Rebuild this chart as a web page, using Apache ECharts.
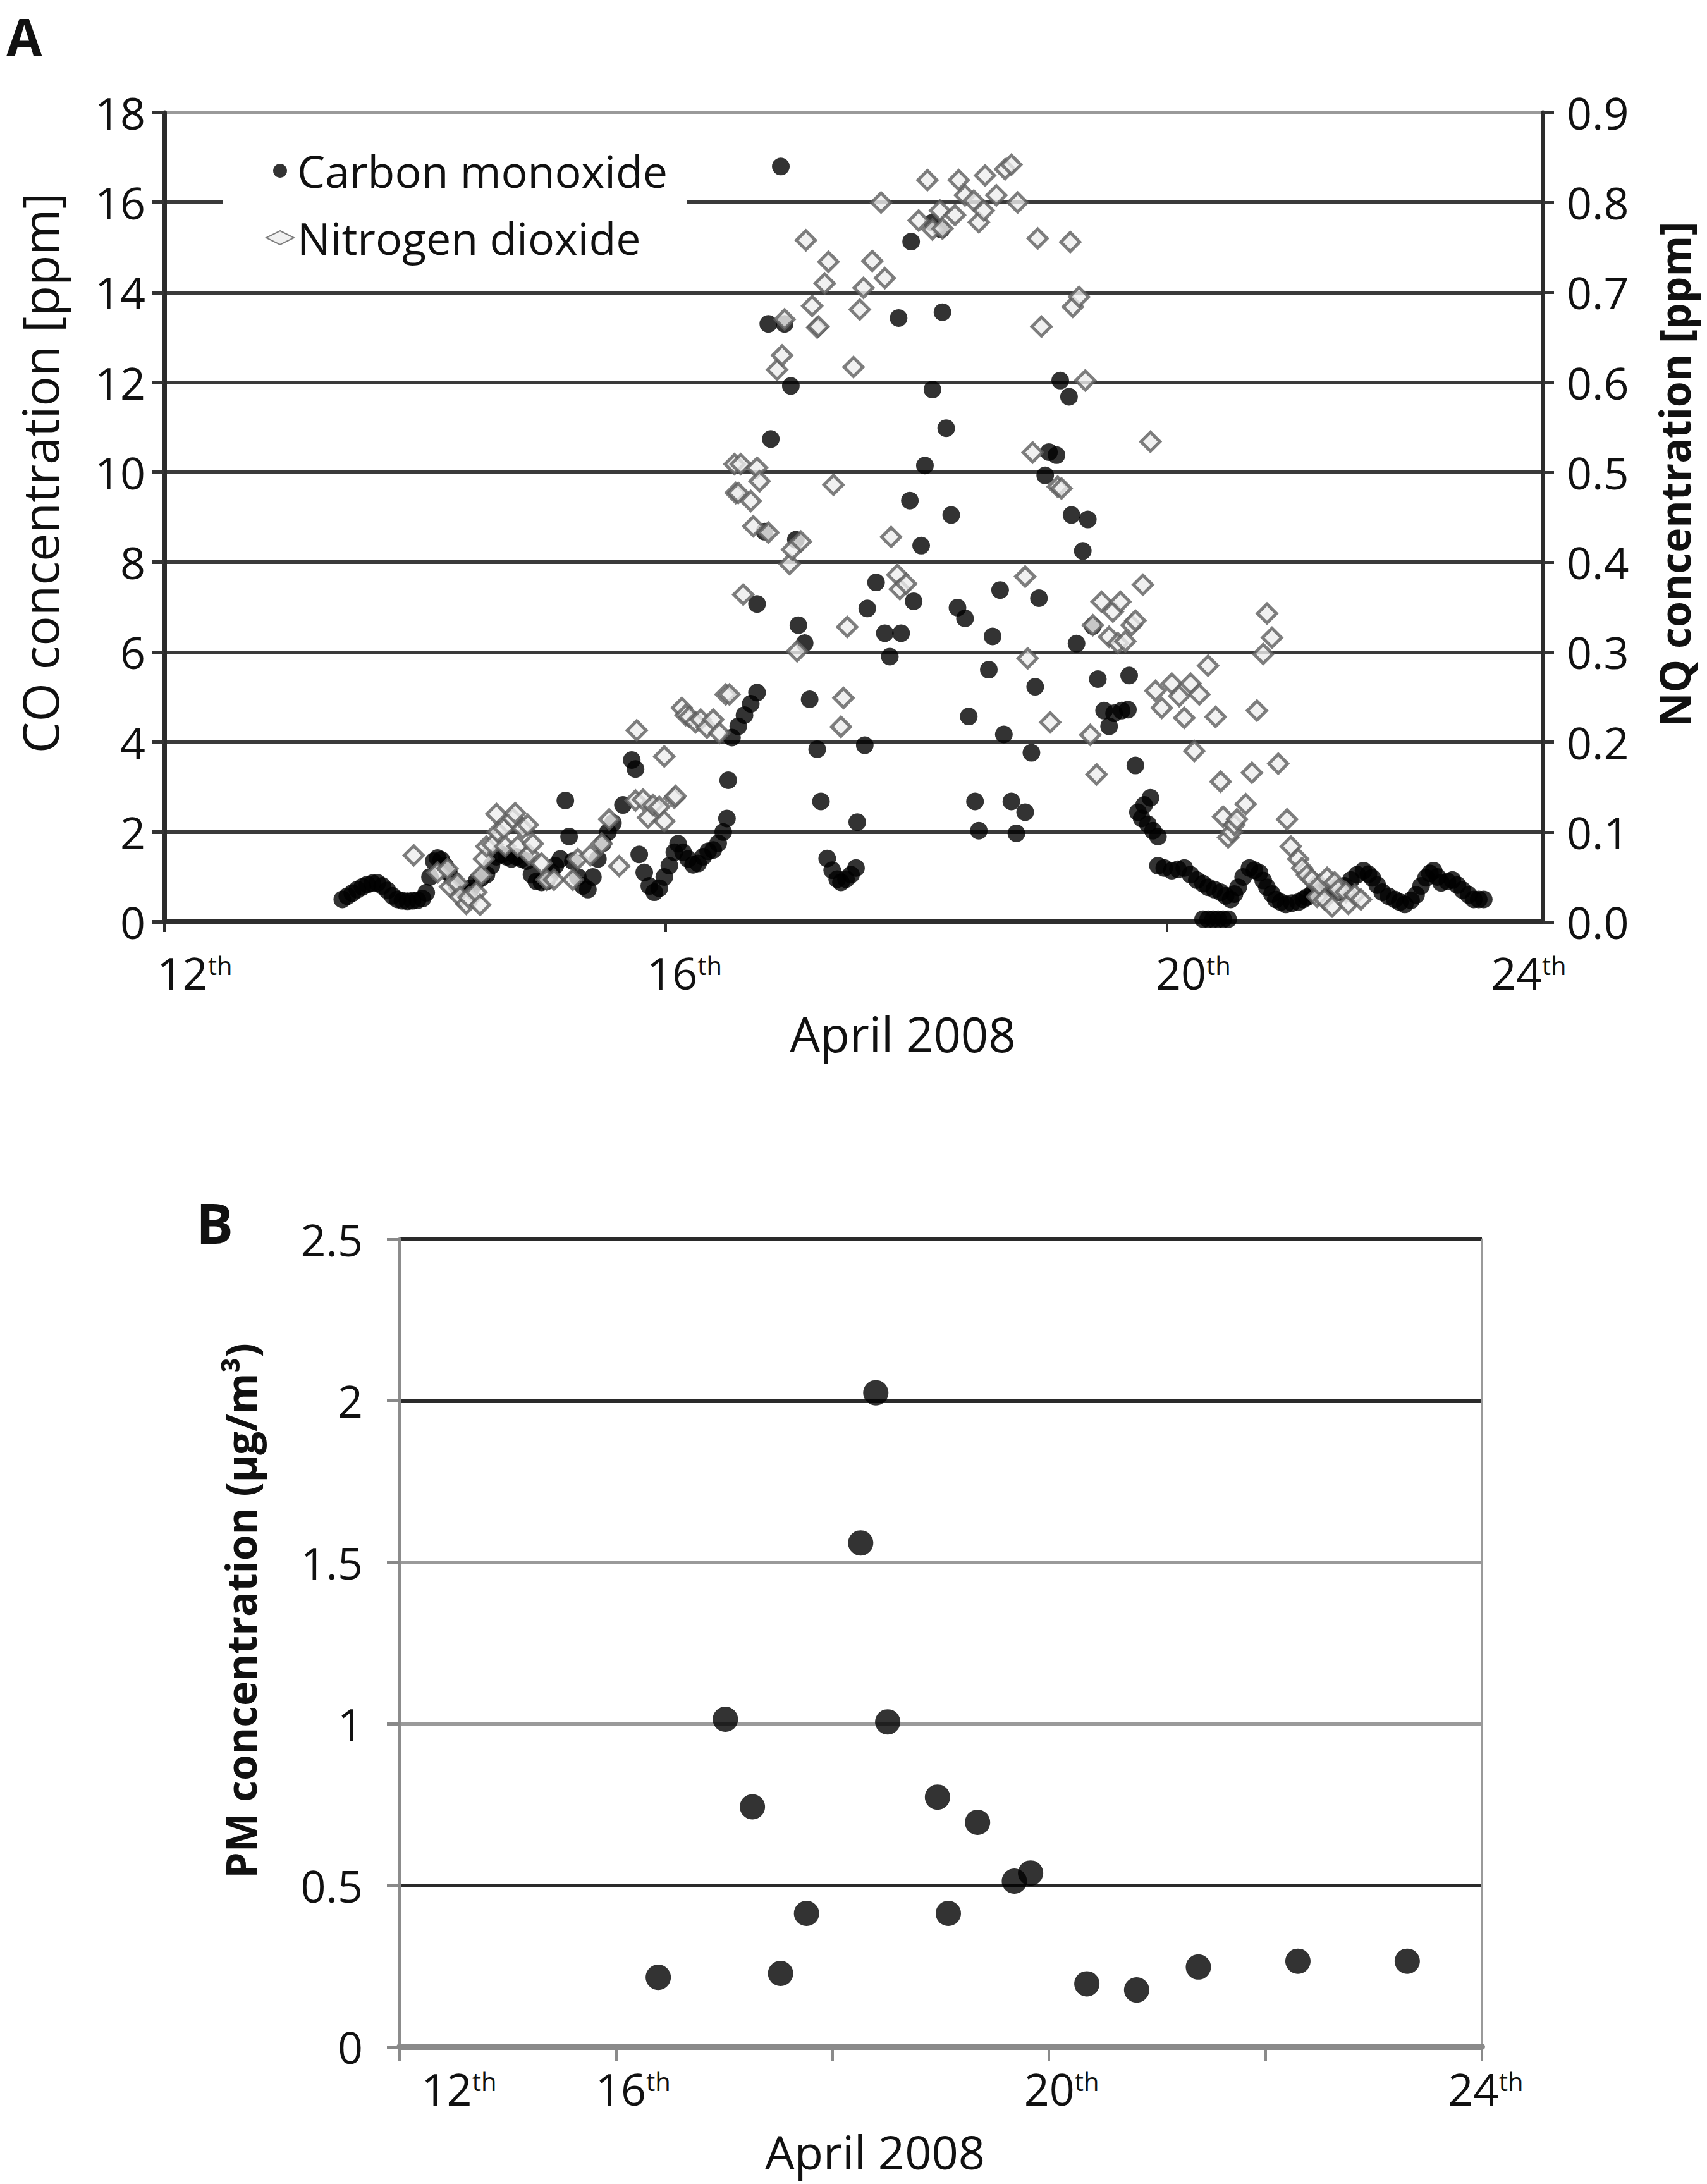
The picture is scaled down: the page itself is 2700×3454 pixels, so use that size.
<!DOCTYPE html>
<html><head><meta charset="utf-8">
<script src="https://cdn.jsdelivr.net/npm/echarts@6/dist/echarts.min.js"></script>
<style>html,body{margin:0;padding:0;background:#fff}#c{width:2700px;height:3454px}</style>
</head><body><div id="c"></div><script>
// ---- Data (day of April 2008, value) ----
const coPoints = [[13.42,0.5],[13.46,0.57],[13.50,0.64],[13.54,0.72],[13.58,0.78],[13.62,0.83],[13.66,0.86],[13.70,0.87],[13.74,0.8],[13.78,0.7],[13.82,0.58],[13.86,0.5],[13.90,0.47],[13.94,0.46],[13.98,0.47],[14.02,0.48],[14.06,0.52],[14.09,0.65],[14.12,1.0],[14.15,1.35],[14.18,1.42],[14.21,1.38],[14.24,1.25],[14.27,1.1],[14.30,0.95],[14.33,0.82],[14.37,0.74],[14.41,0.7],[14.45,0.75],[14.49,0.9],[14.53,0.98],[14.57,1.05],[14.61,1.25],[14.65,1.45],[14.69,1.5],[14.73,1.45],[14.77,1.4],[14.81,1.45],[14.85,1.4],[14.89,1.35],[14.93,1.05],[14.97,0.9],[15.01,0.88],[15.05,0.9],[15.09,1.1],[15.12,1.25],[15.16,1.4],[15.20,2.7],[15.23,1.9],[15.26,1.35],[15.30,1.0],[15.34,0.8],[15.38,0.72],[15.42,1.0],[15.46,1.4],[15.50,1.75],[15.54,2.0],[15.58,2.2],[15.66,2.6],[15.73,3.6],[15.76,3.4],[15.79,1.5],[15.83,1.1],[15.87,0.8],[15.91,0.66],[15.95,0.75],[15.99,1.0],[16.03,1.25],[16.07,1.55],[16.10,1.74],[16.14,1.55],[16.18,1.4],[16.22,1.27],[16.26,1.3],[16.30,1.45],[16.34,1.57],[16.38,1.6],[16.42,1.75],[16.46,2.0],[16.49,2.3],[16.50,3.15],[16.53,4.1],[16.58,4.35],[16.63,4.6],[16.68,4.85],[16.73,5.1],[16.73,7.07],[16.79,8.68],[16.82,13.3],[16.84,10.74],[16.95,13.3],[16.92,16.8],[17.0,11.92],[17.04,8.5],[17.06,6.6],[17.11,6.2],[17.15,4.95],[17.21,3.84],[17.24,2.68],[17.29,1.41],[17.33,1.15],[17.37,0.95],[17.40,0.88],[17.44,0.95],[17.48,1.05],[17.52,1.2],[17.53,2.22],[17.59,3.93],[17.61,6.97],[17.68,7.55],[17.75,6.42],[17.79,5.9],[17.86,13.43],[17.88,6.42],[17.95,9.37],[17.96,15.13],[17.98,7.13],[18.04,8.37],[18.07,10.15],[18.13,11.84],[18.13,15.55],[18.20,15.4],[18.21,13.56],[18.24,10.98],[18.28,9.05],[18.33,6.99],[18.39,6.75],[18.42,4.57],[18.47,2.68],[18.50,2.03],[18.58,5.61],[18.61,6.35],[18.67,7.38],[18.70,4.17],[18.76,2.68],[18.80,1.97],[18.87,2.44],[18.92,3.76],[18.95,5.23],[18.98,7.2],[19.03,9.93],[19.06,10.45],[19.12,10.38],[19.15,12.04],[19.22,11.68],[19.24,9.05],[19.33,8.25],[19.37,8.95],[19.28,6.19],[19.41,6.58],[19.45,5.4],[19.50,4.7],[19.54,4.35],[19.58,4.64],[19.64,4.7],[19.69,4.72],[19.70,5.48],[19.75,3.48],[19.87,2.76],[19.82,2.6],[19.77,2.44],[19.80,2.3],[19.85,2.17],[19.89,2.03],[19.93,1.9],[19.93,1.25],[19.98,1.2],[20.04,1.14],[20.09,1.17],[20.14,1.2],[20.19,1.05],[20.24,0.93],[20.29,0.85],[20.33,0.77],[20.38,0.72],[20.43,0.66],[20.47,0.58],[20.51,0.5],[20.54,0.62],[20.57,0.77],[20.61,1.0],[20.66,1.2],[20.70,1.15],[20.74,1.09],[20.77,0.92],[20.80,0.77],[20.84,0.62],[20.87,0.5],[20.91,0.44],[20.95,0.39],[21.00,0.42],[21.05,0.44],[21.09,0.5],[21.12,0.55],[21.16,0.63],[21.20,0.71],[21.25,0.75],[21.30,0.77],[21.34,0.72],[21.37,0.66],[21.42,0.8],[21.47,0.93],[21.52,1.05],[21.57,1.14],[21.61,1.06],[21.64,0.98],[21.68,0.82],[21.72,0.66],[21.77,0.57],[21.82,0.5],[21.86,0.44],[21.90,0.39],[21.95,0.48],[21.99,0.6],[22.03,0.8],[22.07,0.98],[22.10,1.08],[22.13,1.14],[22.16,1.0],[22.19,0.87],[22.24,0.9],[22.28,0.93],[22.32,0.82],[22.36,0.71],[22.41,0.6],[22.45,0.5],[22.49,0.5],[22.53,0.5],[20.29,0.06],[20.33,0.06],[20.37,0.06],[20.41,0.06],[20.45,0.06],[20.49,0.06]];

const no2Points = [[13.99,0.074],[14.18,0.055],[14.26,0.059],[14.28,0.039],[14.34,0.043],[14.36,0.028],[14.41,0.02],[14.43,0.027],[14.49,0.033],[14.52,0.019],[14.53,0.052],[14.55,0.07],[14.57,0.084],[14.62,0.086],[14.65,0.12],[14.66,0.1],[14.71,0.104],[14.72,0.084],[14.78,0.115],[14.80,0.121],[14.82,0.084],[14.86,0.104],[14.90,0.108],[14.91,0.075],[14.94,0.087],[15.01,0.065],[15.05,0.047],[15.11,0.047],[15.26,0.047],[15.30,0.07],[15.40,0.074],[15.49,0.087],[15.55,0.114],[15.63,0.062],[15.77,0.213],[15.76,0.135],[15.82,0.136],[15.86,0.116],[15.90,0.13],[15.95,0.128],[15.99,0.112],[15.99,0.184],[16.07,0.138],[16.08,0.14],[16.13,0.238],[16.16,0.23],[16.19,0.228],[16.24,0.222],[16.28,0.225],[16.33,0.216],[16.38,0.225],[16.43,0.21],[16.48,0.253],[16.51,0.253],[16.55,0.509],[16.56,0.477],[16.58,0.477],[16.60,0.509],[16.62,0.364],[16.68,0.468],[16.70,0.44],[16.73,0.505],[16.75,0.49],[16.82,0.433],[16.89,0.614],[16.93,0.63],[16.95,0.67],[16.99,0.398],[17.01,0.414],[17.05,0.301],[17.08,0.423],[17.12,0.758],[17.17,0.685],[17.21,0.661],[17.22,0.662],[17.27,0.71],[17.30,0.734],[17.34,0.486],[17.40,0.217],[17.42,0.249],[17.45,0.328],[17.50,0.617],[17.55,0.681],[17.58,0.705],[17.65,0.735],[17.72,0.8],[17.75,0.716],[17.80,0.428],[17.85,0.386],[17.87,0.37],[17.92,0.376],[18.02,0.78],[18.09,0.825],[18.13,0.77],[18.19,0.791],[18.21,0.771],[18.31,0.786],[18.34,0.825],[18.39,0.808],[18.46,0.802],[18.50,0.778],[18.54,0.791],[18.55,0.83],[18.64,0.808],[18.71,0.837],[18.76,0.842],[18.81,0.80],[18.87,0.384],[18.89,0.293],[18.93,0.522],[18.97,0.76],[19.00,0.662],[19.07,0.222],[19.13,0.484],[19.16,0.482],[19.23,0.756],[19.25,0.684],[19.30,0.695],[19.35,0.602],[19.39,0.208],[19.41,0.33],[19.44,0.164],[19.48,0.356],[19.54,0.317],[19.57,0.345],[19.61,0.31],[19.63,0.356],[19.67,0.312],[19.72,0.33],[19.75,0.335],[19.81,0.375],[19.87,0.534],[19.91,0.257],[19.96,0.238],[20.04,0.265],[20.10,0.251],[20.14,0.227],[20.19,0.265],[20.22,0.19],[20.26,0.253],[20.33,0.285],[20.39,0.228],[20.43,0.156],[20.45,0.117],[20.49,0.094],[20.52,0.1],[20.54,0.108],[20.56,0.114],[20.63,0.131],[20.68,0.166],[20.72,0.235],[20.77,0.298],[20.80,0.343],[20.84,0.316],[20.89,0.176],[20.96,0.114],[20.99,0.084],[21.05,0.07],[21.08,0.06],[21.12,0.052],[21.16,0.047],[21.20,0.028],[21.22,0.041],[21.26,0.025],[21.28,0.049],[21.32,0.017],[21.34,0.044],[21.37,0.036],[21.43,0.033],[21.45,0.02],[21.50,0.03],[21.55,0.025]];

const pmPoints = [[16.39,0.215],[17.01,1.014],[17.26,0.743],[17.52,0.227],[17.76,0.413],[18.26,1.56],[18.40,2.025],[18.51,1.006],[18.97,0.773],[19.07,0.413],[19.34,0.695],[19.68,0.513],[19.83,0.538],[20.35,0.195],[20.81,0.176],[21.38,0.247],[22.30,0.265],[23.31,0.265]];

// ---- Tick labels ----
const xLabelValuesA = [12, 16, 20, 23];
const xLabelTextsA = ['12', '16', '20', '24'];
const xTickValuesA = [12, 16, 20];
const xTickValuesB = [14, 16, 18, 20, 22, 24];
const xLabelValuesB = [14, 16, 20, 24];
const xLabelTextsB = ['12', '16', '20', '24'];

// ---- Layout / style (not data): spacer widths [before, after] per label ----
const FONT = 'Open Sans';
const labelSpacerA = [[96, 0], [60, 0], [84, 0], [0, 44]];
const labelSpacerB = [[188, 0], [54, 0], [40, 0], [12, 0]];

function makeRich(spacers) {
  const r = {
    n: {fontSize: 70, lineHeight: 64, color: '#111', fontFamily: FONT},
    s: {fontSize: 40, lineHeight: 40, color: '#111', fontFamily: FONT, verticalAlign: 'top'}
  };
  spacers.forEach(function (w, i) {
    r['a' + i] = {width: w[0], fontSize: 10, lineHeight: 64};
    r['b' + i] = {width: w[1], fontSize: 10, lineHeight: 64};
  });
  return r;
}
function dayFmt(values, texts, spacers) {
  return function (v) {
    const i = values.findIndex(function (x) { return Math.abs(x - v) < 1e-6; });
    if (i < 0) return '';
    return (spacers[i][0] > 0 ? '{a' + i + '| }' : '') + '{n|' + texts[i] + '}{s|th}' +
           (spacers[i][1] > 0 ? '{b' + i + '| }' : '');
  };
}

const chart = echarts.init(document.getElementById('c'), null, {renderer: 'svg'});
chart.setOption({
  animation: false,
  backgroundColor: '#fff',
  textStyle: {fontFamily: FONT, color: '#111'},
  title: [
    {text: 'A', left: 10, top: 16, padding: 0, textStyle: {fontSize: 82, fontWeight: 'bold', color: '#111', fontFamily: FONT, lineHeight: 82}},
    {text: 'B', left: 310, top: 1889, padding: 0, textStyle: {fontSize: 88, fontWeight: 'bold', color: '#111', fontFamily: FONT, lineHeight: 88}}
  ],
  legend: {
    data: ['Carbon monoxide', 'Nitrogen dioxide'],
    orient: 'vertical', left: 353, top: 226,
    padding: [8, 30, 8, 67], itemGap: 34, itemWidth: 44, itemHeight: 22,
    backgroundColor: '#fff',
    textStyle: {fontSize: 70, color: '#111', fontFamily: FONT, lineHeight: 72}
  },
  grid: [
    {left: 260, top: 178, width: 2180, height: 1280},
    {left: 632, top: 1960, width: 1712, height: 1277}
  ],
  xAxis: [
    {gridIndex: 0, type: 'value', min: 12, max: 23,
     name: 'April 2008', nameLocation: 'middle', nameGap: 138,
     nameTextStyle: {fontSize: 76, color: '#111', lineHeight: 76, padding: [0, 0, 0, 156]},
     axisLine: {show: true, onZero: false, lineStyle: {color: '#2e2e2e', width: 8}},
     axisTick: {show: true, customValues: xTickValuesA, length: 16, lineStyle: {color: '#2e2e2e', width: 4}},
     axisLabel: {customValues: xLabelValuesA, margin: 48, formatter: dayFmt(xLabelValuesA, xLabelTextsA, labelSpacerA), rich: makeRich(labelSpacerA)},
     splitLine: {show: false}},
    {gridIndex: 1, type: 'value', min: 14, max: 24,
     name: 'April 2008', nameLocation: 'middle', nameGap: 128,
     nameTextStyle: {fontSize: 74, color: '#111', lineHeight: 74, padding: [0, 208, 0, 0]},
     axisLine: {show: true, onZero: false, lineStyle: {color: '#8a8a8a', width: 10}},
     axisTick: {show: true, customValues: xTickValuesB, length: 22, lineStyle: {color: '#8a8a8a', width: 4}},
     axisLabel: {customValues: xLabelValuesB, margin: 34, formatter: dayFmt(xLabelValuesB, xLabelTextsB, labelSpacerB), rich: makeRich(labelSpacerB)},
     splitLine: {show: false}}
  ],
  yAxis: [
    {gridIndex: 0, type: 'value', min: 0, max: 18, interval: 2, position: 'left',
     name: 'CO concentration [ppm]', nameLocation: 'middle', nameGap: 158, nameRotate: 90,
     nameTextStyle: {fontSize: 79, color: '#111', padding: [0, 0, 0, 140]},
     axisLine: {show: true, lineStyle: {color: '#2b2b2b', width: 7}},
     axisTick: {show: true, length: 20, lineStyle: {color: '#333', width: 6}},
     axisLabel: {fontSize: 70, lineHeight: 56, margin: 30, color: '#111'},
     splitLine: {show: true, lineStyle: {color: ['#333', '#3a3a3a', '#3a3a3a', '#3a3a3a', '#3a3a3a', '#3a3a3a', '#3a3a3a', '#3a3a3a', '#3a3a3a', '#9a9a9a'], width: 6}}},
    {gridIndex: 0, type: 'value', min: 0, max: 0.9, interval: 0.1, position: 'right',
     name: 'NQ concentration [ppm]', nameLocation: 'middle', nameGap: 175, nameRotate: 90,
     nameTextStyle: {fontSize: 66, fontWeight: 'bold', color: '#111', padding: [0, 0, 0, 136]},
     axisLine: {show: true, lineStyle: {color: '#2b2b2b', width: 7}},
     axisTick: {show: true, length: 18, lineStyle: {color: '#333', width: 5}},
     axisLabel: {fontSize: 70, lineHeight: 56, margin: 38, color: '#111', formatter: function (v) { return v.toFixed(1); }},
     splitLine: {show: false}},
    {gridIndex: 1, type: 'value', min: 0, max: 2.5, interval: 0.5, position: 'left',
     name: 'PM concentration (µg/m³)', nameLocation: 'middle', nameGap: 219, nameRotate: 90,
     nameTextStyle: {fontSize: 66, fontWeight: 'bold', color: '#111', padding: [0, 0, 0, 102]},
     axisLine: {show: true, lineStyle: {color: '#8c8c8c', width: 6}},
     axisTick: {show: true, length: 20, lineStyle: {color: '#888', width: 5}},
     axisLabel: {fontSize: 70, lineHeight: 56, margin: 58, color: '#111'},
     splitLine: {show: true, lineStyle: {color: ['#8a8a8a', '#2a2a2a', '#9a9a9a', '#9a9a9a', '#2a2a2a', '#2a2a2a'], width: 6}}},
    {gridIndex: 1, type: 'value', min: 0, max: 2.5, interval: 0.5, position: 'right',
     axisLine: {show: true, lineStyle: {color: '#9a9a9a', width: 3}},
     axisTick: {show: false}, axisLabel: {show: false}, splitLine: {show: false}}
  ],
  series: [
    {type: 'scatter', name: 'Carbon monoxide', xAxisIndex: 0, yAxisIndex: 0, data: coPoints,
     symbol: 'circle', symbolSize: 28, itemStyle: {color: '#000'}},
    {type: 'scatter', name: 'Nitrogen dioxide', xAxisIndex: 0, yAxisIndex: 1, data: no2Points,
     symbol: 'diamond', symbolSize: 30, itemStyle: {color: '#eeeeee', borderColor: '#5e5e5e', borderWidth: 5}},
    {type: 'scatter', name: 'PM', xAxisIndex: 1, yAxisIndex: 2, data: pmPoints,
     symbol: 'circle', symbolSize: 40, itemStyle: {color: '#000'}}
  ]
});
</script></body></html>
